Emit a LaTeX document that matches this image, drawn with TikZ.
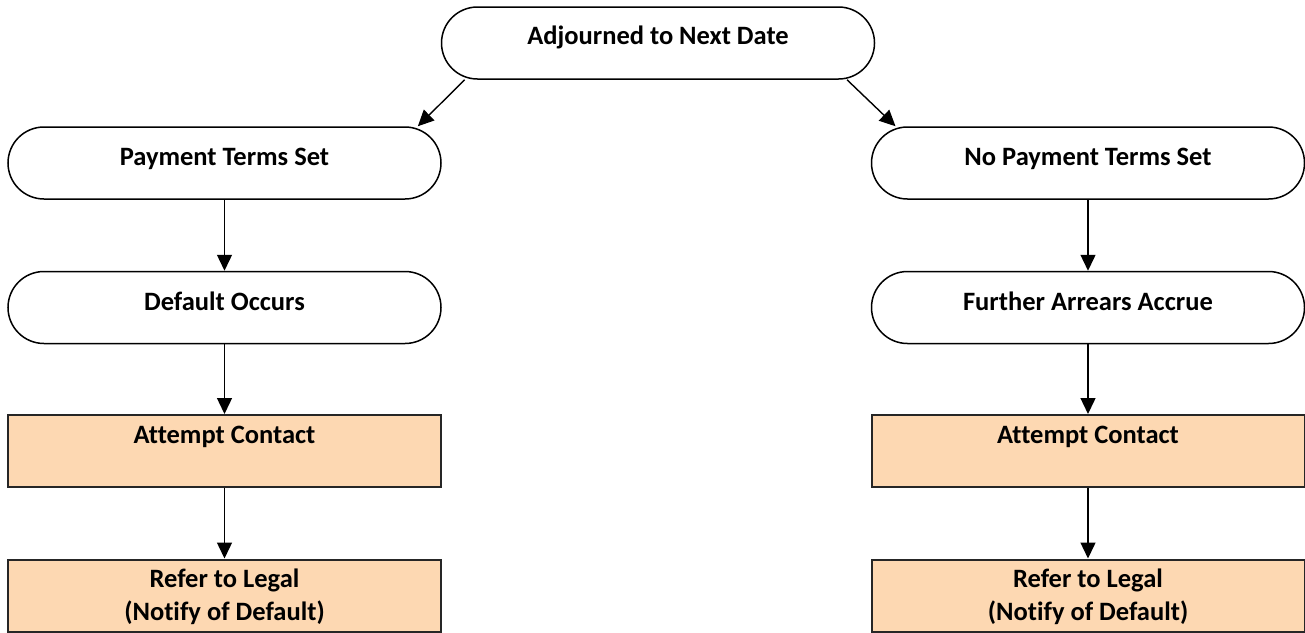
\documentclass[tikz,border=0pt]{standalone}
\usepackage{fontspec}
\setmainfont[Ligatures=NoCommon]{Carlito}
\usetikzlibrary{arrows.meta,calc}
\definecolor{procfill}{RGB}{253,216,178}
\begin{document}
\begin{tikzpicture}[x=1pt,y=-1pt,
  term/.style={draw=black,line width=1.5pt,rounded corners=36pt,minimum width=433pt,minimum height=72pt,inner sep=0pt,fill=white},
  proc/.style={draw=black!85,line width=2pt,minimum width=433pt,minimum height=72pt,inner sep=0pt,fill=procfill},
  lbl/.style={font=\bfseries\fontsize{26.5}{33}\selectfont,anchor=base,inner sep=0pt,align=center},
  arr/.style={line width=1.4pt,-{Triangle[length=16pt,width=15pt]}}]
\useasboundingbox (0,0) rectangle (1305,632);
% shapes
\node[term] (top) at (658,43) {};
\node[term] (L1) at (224.5,163) {};
\node[term] (L2) at (224.5,307.5) {};
\node[proc] (L3) at (224.5,451) {};
\node[proc] (L4) at (224.5,595.5) {};
\node[term] (R1) at (1088,163) {};
\node[term] (R2) at (1088,307.5) {};
\node[proc] (R3) at (1088,451) {};
\node[proc] (R4) at (1088,595.5) {};
% connectors
\coordinate (tl) at ($(top.south west)!0.055!(top.south east)$);
\coordinate (tr) at ($(top.south east)!0.065!(top.south west)$);
\coordinate (l1) at ($(L1.north east)!0.055!(L1.north west)$);
\coordinate (r1) at ($(R1.north west)!0.057!(R1.north east)$);
\draw[arr] (tl) -- (l1);
\draw[arr] (tr) -- (r1);
\draw[arr] (L1) -- (L2);
\draw[arr] (L2) -- (L3);
\draw[arr] (L3) -- (L4);
\draw[arr] (R1) -- (R2);
\draw[arr] (R2) -- (R3);
\draw[arr] (R3) -- (R4);
% labels
\node[lbl] (ttop) at (658,44) {Adjourned to Next Date};
\node[lbl] (tL1) at (224.5,165) {Payment Terms Set};
\node[lbl] (tL2) at (224.5,310) {Default Occurs};
\node[lbl] (tL3) at (224.5,443) {Attempt Contact};
\node[lbl] (tL4) at (224.5,620) {Refer to Legal\\(Notify of Default)};
\node[lbl] (tR1) at (1088,165) {No Payment Terms Set};
\node[lbl] (tR2) at (1088,310) {Further Arrears Accrue};
\node[lbl] (tR3) at (1088,443) {Attempt Contact};
\node[lbl] (tR4) at (1088,620) {Refer to Legal\\(Notify of Default)};
\end{tikzpicture}
\end{document}
